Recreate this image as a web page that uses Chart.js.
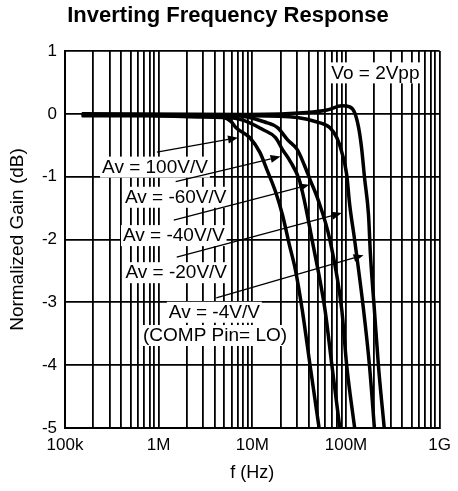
<!DOCTYPE html>
<html>
<head>
<meta charset="utf-8">
<script src="https://cdn.jsdelivr.net/npm/chart.js@4/dist/chart.umd.min.js"></script>
<style>
  html, body { margin: 0; padding: 0; background: #fff; }
  #wrap { width: 458px; height: 491px; }
</style>
</head>
<body>
<div id="wrap"><canvas id="chart" width="458" height="491"></canvas></div>
<script>
// frequency (Hz) / normalized gain (dB)
const f100 = [1.51e5, 7.9e5, 2.66e6, 4.88e6, 5.9e6, 6.7e6, 9.41e6, 1.2e7, 1.46e7, 1.77e7, 2.1e7, 2.49e7, 2.88e7, 3.41e7, 4.14e7, 5.16e7];
const g100 = [-0.03, -0.03, -0.05, -0.06, -0.12, -0.22, -0.38, -0.61, -0.92, -1.24, -1.61, -2.09, -2.48, -3.12, -4.01, -5.0];

const f60 = [1.51e5, 2.66e6, 7.94e6, 1.29e7, 1.77e7, 2.1e7, 2.55e7, 3.17e7, 3.58e7, 4.35e7, 5.97e7, 7.08e7, 8.59e7];
const g60 = [-0.02, -0.03, -0.10, -0.25, -0.38, -0.57, -0.76, -1.05, -1.37, -2.01, -3.12, -4.01, -5.0];

const f40 = [1.51e5, 7.03e6, 1.355e7, 1.86e7, 2.37e7, 3.02e7, 3.58e7, 4.14e7, 5.04e7, 6.74e7, 9.02e7, 1.018e8, 1.237e8];
const g40 = [-0.02, -0.03, -0.13, -0.22, -0.41, -0.57, -0.81, -1.05, -1.37, -2.01, -3.12, -4.01, -5.0];

const f20 = [1.51e5, 8.97e6, 3.02e7, 4.91e7, 6.74e7, 7.99e7, 9.02e7, 1.018e8, 1.096e8, 1.237e8, 1.54e8, 1.782e8, 2.01e8];
const g20 = [-0.02, -0.03, -0.06, -0.13, -0.22, -0.38, -0.61, -0.97, -1.45, -2.01, -3.12, -4.01, -5.0];

const f4 = [1.51e5, 8.97e6, 3.85e7, 6.27e7, 9.02e7, 1.096e8, 1.237e8, 1.364e8, 1.466e8, 1.578e8, 1.74e8, 1.825e8, 2.01e8, 2.22e8, 2.56e8];
const g4 = [0, -0.01, 0.02, 0.06, 0.13, 0.11, 0.02, -0.22, -0.54, -1.02, -1.61, -2.25, -3.12, -4.01, -5.0];

const xTickValues = [1e5, 1e6, 1e7, 1e8, 1e9];
const xTickLabels = ['100k', '1M', '10M', '100M', '1G'];

// callouts: text and anchor in data units
const noteText = ['Av = 100V/V', 'Av = -60V/V', 'Av = -40V/V', 'Av = -20V/V', 'Av = -4V/V', '(COMP Pin= LO)', 'Vo = 2Vpp'];
const noteF = [9.13e5, 1.52e6, 1.45e6, 1.54e6, 3.93e6, 4.0e6, 2.06e8];
const noteG = [-0.84, -1.32, -1.93, -2.52, -3.15, -3.52, 0.66];

const arrowFromF = [9.58e5, 1.52e6, 1.45e6, 1.56e6, 4.12e6];
const arrowFromG = [-0.61, -1.08, -1.69, -2.28, -2.93];
const arrowToF = [7.03e6, 2.0e7, 4.05e7, 9.02e7, 1.54e8];
const arrowToG = [-0.38, -0.68, -1.13, -1.58, -2.25];

const FONT = "'Liberation Sans', Arial, Helvetica, sans-serif";

function pts(fs, gs) {
  return fs.map((f, i) => ({ x: f, y: gs[i] }));
}

function curve(fs, gs) {
  return {
    data: pts(fs, gs),
    borderColor: '#000',
    borderWidth: 3.5,
    pointRadius: 0,
    showLine: true,
    cubicInterpolationMode: 'monotone',
    fill: false
  };
}

// white-boxed text labels over the grid, arrows on top of the curves
const notesPlugin = {
  id: 'notes',
  beforeDatasetsDraw(chart) {
    const { ctx, scales: { x, y } } = chart;
    ctx.save();
    ctx.font = '19px ' + FONT;
    ctx.textAlign = 'center';
    ctx.textBaseline = 'middle';
    noteText.forEach((t, i) => {
      const px = x.getPixelForValue(noteF[i]);
      const py = y.getPixelForValue(noteG[i]);
      const w = ctx.measureText(t).width;
      ctx.fillStyle = '#fff';
      ctx.fillRect(px - w / 2 - 2, py - 10, w + 4, 21);
      ctx.fillStyle = '#000';
      ctx.fillText(t, px, py + 1);
    });
    ctx.restore();
  },
  afterDatasetsDraw(chart) {
    const { ctx, scales: { x, y } } = chart;
    ctx.save();
    ctx.strokeStyle = '#000';
    ctx.fillStyle = '#000';
    ctx.lineWidth = 1.3;
    arrowFromF.forEach((f, i) => {
      const x0 = x.getPixelForValue(f), y0 = y.getPixelForValue(arrowFromG[i]);
      const x1 = x.getPixelForValue(arrowToF[i]), y1 = y.getPixelForValue(arrowToG[i]);
      const a = Math.atan2(y1 - y0, x1 - x0);
      const len = 10, half = 4;
      const bx = x1 - len * Math.cos(a), by = y1 - len * Math.sin(a);
      ctx.beginPath();
      ctx.moveTo(x0, y0);
      ctx.lineTo(bx, by);
      ctx.stroke();
      ctx.beginPath();
      ctx.moveTo(x1, y1);
      ctx.lineTo(bx + half * Math.sin(a), by - half * Math.cos(a));
      ctx.lineTo(bx - half * Math.sin(a), by + half * Math.cos(a));
      ctx.closePath();
      ctx.fill();
    });
    ctx.restore();
  }
};

new Chart(document.getElementById('chart'), {
  type: 'scatter',
  data: {
    datasets: [curve(f100, g100), curve(f60, g60), curve(f40, g40), curve(f20, g20), curve(f4, g4)]
  },
  options: {
    responsive: false,
    animation: false,
    layout: { padding: { left: 12, right: 14, top: 0, bottom: 0 } },
    plugins: {
      legend: { display: false },
      tooltip: { enabled: false },
      title: {
        display: true,
        text: 'Inverting Frequency Response',
        color: '#000',
        font: { family: FONT, size: 22, weight: 'bold' },
        padding: { top: 3, bottom: 21.6 }
      }
    },
    scales: {
      x: {
        type: 'logarithmic',
        min: 1e5,
        max: 1e9,
        afterBuildTicks(scale) {
          const t = [];
          for (let e = 5; e < 9; e++) {
            for (let m = 1; m < 10; m++) t.push({ value: m * Math.pow(10, e) });
          }
          t.push({ value: 1e9 });
          scale.ticks = t;
        },
        afterFit(scale) { scale.height = 63; },
        ticks: {
          autoSkip: false,
          maxRotation: 0,
          padding: 7,
          color: '#000',
          font: { family: FONT, size: 17 },
          callback(v) {
            const i = xTickValues.findIndex(d => Math.abs(d - v) / d < 1e-6);
            return i >= 0 ? xTickLabels[i] : '';
          }
        },
        grid: {
          color: '#000',
          lineWidth: 1.8,
          drawTicks: false
        },
        border: { display: true, color: '#000', width: 2 },
        title: {
          display: true,
          text: 'f (Hz)',
          color: '#000',
          font: { family: FONT, size: 18 },
          padding: { top: 0, bottom: 7 }
        }
      },
      y: {
        min: -5,
        max: 1,
        afterFit(scale) { scale.width = 53; },
        ticks: {
          stepSize: 1,
          padding: 8,
          color: '#000',
          font: { family: FONT, size: 17 }
        },
        grid: {
          color: '#000',
          lineWidth: 1.8,
          drawTicks: false
        },
        border: { display: true, color: '#000', width: 2 },
        title: {
          display: true,
          text: 'Normalized Gain (dB)',
          color: '#000',
          font: { family: FONT, size: 19 },
          padding: { top: -6, bottom: 0 }
        }
      }
    }
  },
  plugins: [notesPlugin]
});
</script>
</body>
</html>
